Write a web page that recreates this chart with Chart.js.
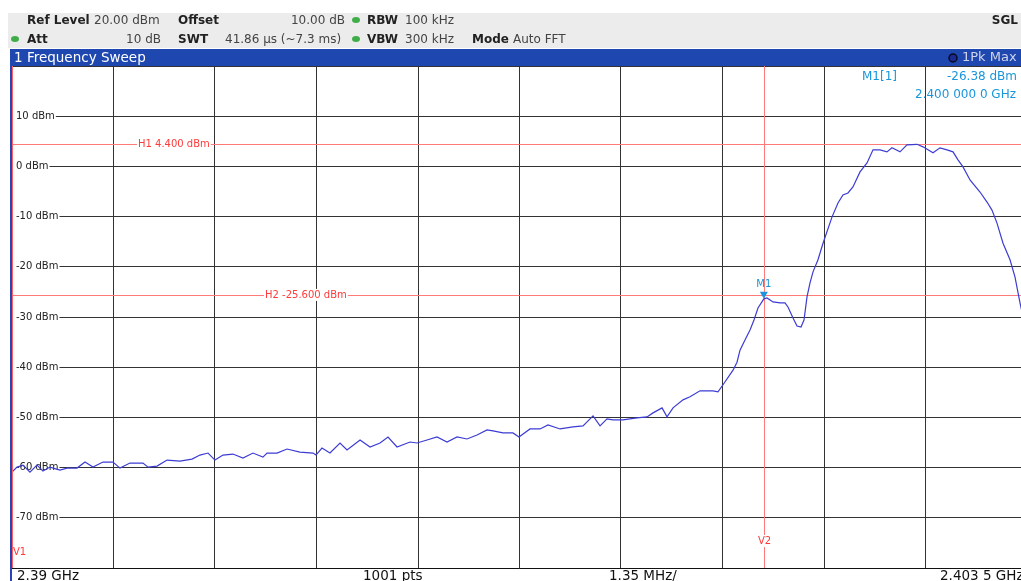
<!DOCTYPE html>
<html>
<head>
<meta charset="utf-8">
<script src="https://cdn.jsdelivr.net/npm/chart.js@4"></script>
<style>
  html, body { margin: 0; padding: 0; background: #fff; overflow: hidden; width: 1021px; height: 581px; }
  canvas { display: block; }
</style>
</head>
<body>
<canvas id="sweep" width="1040" height="581"></canvas>
<script>
// trace (MHz / dBm)
var freqMHz = [
  2390.000, 2390.067, 2390.146, 2390.239, 2390.333, 2390.412, 2390.505, 2390.638, 2390.732, 2390.865,
  2390.971, 2391.077, 2391.210, 2391.343, 2391.436, 2391.569, 2391.742, 2391.809, 2391.929, 2392.062,
  2392.234, 2392.394, 2392.500, 2392.607, 2392.700, 2392.806, 2392.939, 2393.072, 2393.205, 2393.338,
  2393.392, 2393.525, 2393.658, 2393.830, 2394.004, 2394.043, 2394.123, 2394.229, 2394.363, 2394.456,
  2394.629, 2394.762, 2394.895, 2395.001, 2395.121, 2395.294, 2395.387, 2395.520, 2395.653, 2395.786,
  2395.919, 2396.052, 2396.185, 2396.318, 2396.398, 2396.530, 2396.663, 2396.743, 2396.890, 2397.023,
  2397.129, 2397.289, 2397.462, 2397.595, 2397.728, 2397.821, 2397.914, 2397.993, 2398.126, 2398.313,
  2398.446, 2398.526, 2398.646, 2398.712, 2398.792, 2398.925, 2399.018, 2399.151, 2399.324, 2399.390,
  2399.457, 2399.590, 2399.643, 2399.683, 2399.749, 2399.816, 2399.869, 2399.922, 2400.000, 2400.042,
  2400.122, 2400.215, 2400.281, 2400.321, 2400.388, 2400.441, 2400.494, 2400.534, 2400.574, 2400.614,
  2400.654, 2400.720, 2400.787, 2400.906, 2400.986, 2401.052, 2401.119, 2401.185, 2401.279, 2401.372,
  2401.452, 2401.545, 2401.638, 2401.704, 2401.811, 2401.904, 2402.037, 2402.117, 2402.250, 2402.343,
  2402.436, 2402.516, 2402.582, 2402.649, 2402.742, 2402.875, 2402.968, 2403.034, 2403.101, 2403.181,
  2403.274, 2403.340, 2403.407, 2403.500
];
var levelDbm = [
  -60.9, -59.9, -59.5, -60.9, -59.5, -60.7, -59.9, -60.5, -60.1, -60.1,
  -58.9, -59.9, -58.9, -58.9, -60.1, -59.1, -59.1, -59.9, -59.7, -58.5,
  -58.7, -58.3, -57.5, -57.1, -58.5, -57.5, -57.3, -58.1, -57.1, -57.9,
  -57.1, -57.1, -56.3, -56.9, -57.1, -57.5, -56.1, -57.1, -55.1, -56.5,
  -54.5, -55.9, -55.1, -53.9, -55.9, -54.9, -55.1, -54.5, -53.9, -54.9,
  -53.9, -54.3, -53.5, -52.5, -52.7, -53.1, -53.1, -53.9, -52.3, -52.3,
  -51.5, -52.3, -51.9, -51.7, -49.7, -51.7, -50.3, -50.5, -50.5, -50.1,
  -49.9, -49.1, -48.1, -49.9, -48.1, -46.5, -45.9, -44.7, -44.7, -44.9,
  -43.5, -40.6, -39.0, -36.6, -34.6, -32.6, -30.6, -28.2, -26.38, -26.2,
  -27.0, -27.2, -27.2, -28.0, -30.2, -31.8, -32.0, -30.6, -26.0, -23.2,
  -21.0, -18.6, -15.3, -10.1, -7.3, -5.7, -5.3, -4.1, -1.1, 0.7,
  3.3, 3.3, 2.9, 3.7, 2.9, 4.3, 4.4, 3.9, 2.7, 3.7,
  3.3, 2.9, 1.3, -0.1, -2.7, -5.1, -7.1, -8.7, -11.3, -15.3,
  -18.6, -22.0, -27.2, -33.6
];

var xStart = 2390, xPerDiv = 1.35, xDivs = 10;
var yMin = -80, yMax = 20, yStep = 10;
var h1Level = 4.4, h2Level = -25.6;
var m1Freq = 2400.0, m1Level = -26.38;

var F = '"DejaVu Sans", Verdana, sans-serif';

function txt(ctx, s, x, y, font, color, align, bg) {
  ctx.font = font;
  ctx.textAlign = align || 'left';
  ctx.textBaseline = 'middle';
  if (bg) {
    var w = ctx.measureText(s).width;
    var lx = align === 'center' ? x - w / 2 : (align === 'right' ? x - w : x);
    ctx.fillStyle = bg;
    ctx.fillRect(lx - 1, y - 6, w + 2, 12);
  }
  ctx.fillStyle = color;
  ctx.fillText(s, x, y);
}

function dot(ctx, x, y) {
  ctx.beginPath();
  ctx.ellipse(x, y, 4, 3, 0, 0, Math.PI * 2);
  ctx.fillStyle = '#3fae49';
  ctx.fill();
}

var frame = {
  id: 'frame',
  beforeDraw: function (chart) {
    var ctx = chart.ctx;
    ctx.save();
    ctx.fillStyle = '#fff';
    ctx.fillRect(0, 0, chart.width, chart.height);
    // settings header
    ctx.fillStyle = '#ececec';
    ctx.fillRect(8, 13, chart.width, 35);
    var B = 'bold 12px ' + F, N = '12px ' + F;
    txt(ctx, 'Ref Level', 27, 21, B, '#222');
    txt(ctx, '20.00 dBm', 94, 21, N, '#444');
    txt(ctx, 'Offset', 178, 21, B, '#222');
    txt(ctx, '10.00 dB', 345, 21, N, '#444', 'right');
    dot(ctx, 356, 20);
    txt(ctx, 'RBW', 367, 21, B, '#222');
    txt(ctx, '100 kHz', 405, 21, N, '#444');
    txt(ctx, 'SGL', 1018, 21, B, '#222', 'right');
    dot(ctx, 15, 39);
    txt(ctx, 'Att', 27, 40, B, '#222');
    txt(ctx, '10 dB', 161, 40, N, '#444', 'right');
    txt(ctx, 'SWT', 178, 40, B, '#222');
    txt(ctx, '41.86 µs (~7.3 ms)', 225, 40, N, '#444');
    dot(ctx, 356, 39);
    txt(ctx, 'VBW', 367, 40, B, '#222');
    txt(ctx, '300 kHz', 405, 40, N, '#444');
    txt(ctx, 'Mode', 472, 40, B, '#222');
    txt(ctx, 'Auto FFT', 513, 40, N, '#444');
    // window title bar
    ctx.fillStyle = '#1e48af';
    ctx.fillRect(10, 49, chart.width, 17);
    txt(ctx, '1 Frequency Sweep', 14, 58, '13.5px ' + F, '#fff');
    ctx.beginPath();
    ctx.arc(953, 58, 4, 0, Math.PI * 2);
    ctx.fillStyle = '#1a2a90';
    ctx.fill();
    ctx.strokeStyle = '#0a0a20';
    ctx.lineWidth = 1.5;
    ctx.stroke();
    txt(ctx, '1Pk Max', 962, 58, '13px ' + F, '#d0d4ea');
    ctx.restore();
  },
  beforeDatasetsDraw: function (chart) {
    var ctx = chart.ctx, a = chart.chartArea;
    var xs = chart.scales.x, ys = chart.scales.y;
    ctx.save();
    ctx.strokeStyle = '#ff7a7a';
    ctx.lineWidth = 1;
    [h1Level, h2Level].forEach(function (v) {
      var y = Math.round(ys.getPixelForValue(v)) + 0.5;
      ctx.beginPath(); ctx.moveTo(a.left, y); ctx.lineTo(a.right, y); ctx.stroke();
    });
    var vx = Math.round(xs.getPixelForValue(m1Freq)) + 0.5;
    ctx.beginPath(); ctx.moveTo(vx, a.top); ctx.lineTo(vx, a.bottom); ctx.stroke();
    var R = '10px ' + F;
    txt(ctx, 'H1 4.400 dBm', 138, ys.getPixelForValue(h1Level), R, '#ff3a3a', 'left', '#fff');
    txt(ctx, 'H2 -25.600 dBm', 265, ys.getPixelForValue(h2Level), R, '#ff3a3a', 'left', '#fff');
    txt(ctx, 'V2', vx, 541, R, '#ff3a3a', 'center', '#fff');
    ctx.restore();
  },
  afterDatasetsDraw: function (chart) {
    var ctx = chart.ctx, a = chart.chartArea;
    var xs = chart.scales.x, ys = chart.scales.y;
    ctx.save();
    // plot frame
    ctx.strokeStyle = '#111';
    ctx.lineWidth = 1;
    ctx.beginPath(); ctx.moveTo(a.left, a.bottom + 0.5); ctx.lineTo(a.right, a.bottom + 0.5); ctx.stroke();
    ctx.strokeStyle = '#ff6060';
    ctx.beginPath(); ctx.moveTo(12.5, a.top); ctx.lineTo(12.5, a.bottom); ctx.stroke();
    ctx.fillStyle = '#2a44b8';
    ctx.fillRect(10, a.top, 2, chart.height - a.top);
    txt(ctx, 'V1', 13, 552, '10px ' + F, '#ff3a3a');
    // marker M1
    var mx = xs.getPixelForValue(m1Freq), my = ys.getPixelForValue(m1Level);
    ctx.fillStyle = '#1a96dc';
    ctx.beginPath();
    ctx.moveTo(mx, my); ctx.lineTo(mx - 4, my - 7); ctx.lineTo(mx + 4, my - 7); ctx.closePath();
    ctx.fill();
    txt(ctx, 'M1', mx, my - 14, '10px ' + F, '#1a96dc', 'center');
    var C = '12px ' + F;
    txt(ctx, 'M1[1]', 862, 77, C, '#1a96dc');
    txt(ctx, '-26.38 dBm', 947, 77, C, '#1a96dc');
    txt(ctx, '2.400 000 0 GHz', 915, 95, C, '#1a96dc');
    // bottom annotation
    var BF = '13.5px ' + F;
    txt(ctx, '2.39 GHz', 17, 576, BF, '#111');
    txt(ctx, '1001 pts', 363, 576, BF, '#111');
    txt(ctx, '1.35 MHz/', 609, 576, BF, '#111');
    txt(ctx, '2.403 5 GHz', 940, 576, BF, '#111');
    ctx.restore();
  }
};

var points = freqMHz.map(function (f, i) { return { x: f, y: levelDbm[i] }; });

new Chart(document.getElementById('sweep'), {
  type: 'line',
  data: {
    datasets: [{
      data: points,
      borderColor: '#3c3cd4',
      borderWidth: 1.2,
      pointRadius: 0,
      tension: 0,
      fill: false
    }]
  },
  options: {
    responsive: false,
    animation: false,
    events: [],
    layout: { padding: { left: 12, top: 66, right: 13, bottom: 13 } },
    plugins: { legend: { display: false }, tooltip: { enabled: false } },
    scales: {
      x: {
        type: 'linear',
        min: xStart,
        max: xStart + xPerDiv * xDivs,
        afterBuildTicks: function (s) {
          var t = [];
          for (var i = 0; i <= xDivs; i++) t.push({ value: xStart + i * xPerDiv });
          s.ticks = t;
        },
        afterFit: function (s) { s.height = 0; },
        grid: { color: '#333', lineWidth: 1, drawTicks: false },
        border: { display: false },
        ticks: { display: false }
      },
      y: {
        min: yMin,
        max: yMax,
        afterFit: function (s) { s.width = 0; },
        grid: { color: '#333', lineWidth: 1, drawTicks: false },
        border: { display: false },
        ticks: {
          stepSize: yStep,
          mirror: true,
          padding: 4,
          color: '#222',
          font: { family: 'DejaVu Sans', size: 10 },
          showLabelBackdrop: true,
          backdropColor: function (c) {
            var v = c.tick && c.tick.value;
            return (v === yMax || v === yMin) ? 'rgba(0,0,0,0)' : '#fff';
          },
          backdropPadding: { left: 4, right: 1, top: 0, bottom: 0 },
          callback: function (v) { return (v === yMax || v === yMin) ? '' : v + ' dBm'; }
        }
      }
    }
  },
  plugins: [frame]
});
</script>
</body>
</html>
